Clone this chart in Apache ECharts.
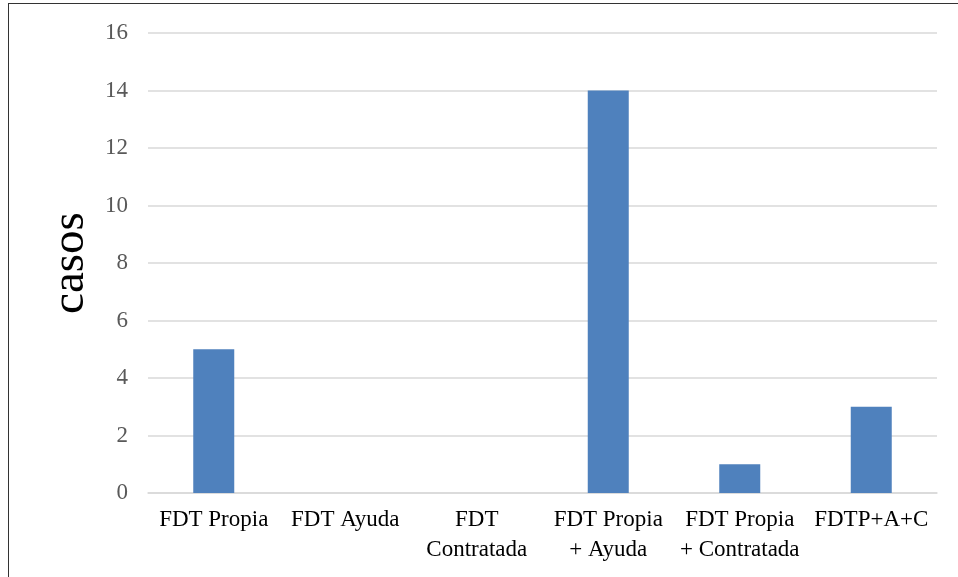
<!DOCTYPE html>
<html>
<head>
<meta charset="utf-8">
<script src="https://cdn.jsdelivr.net/npm/echarts@6/dist/echarts.min.js"></script>
<style>
  html, body { margin: 0; padding: 0; background: #fff; }
  #frame {
    position: absolute; left: 8px; top: 3px; width: 950px; height: 574px;
    border-left: 1px solid #333; border-top: 1px solid #333; box-sizing: border-box;
  }
  #chart { position: absolute; left: 0; top: 0; width: 958px; height: 577px; }
</style>
</head>
<body>
<div id="frame"></div>
<div id="chart"></div>
<script>
const categories = ['FDT Propia', 'FDT Ayuda', 'FDT\nContratada', 'FDT Propia\n+ Ayuda', 'FDT Propia\n+ Contratada', 'FDTP+A+C']
const casos = [5, 0, 0, 14, 1, 3]
const barColor = '#4f81bd'
const gridColor = '#d9d9d9'
const serif = '"Liberation Serif", "Times New Roman", serif'

const chart = echarts.init(document.getElementById('chart'))
chart.setOption({
  animation: false,
  grid: { left: 148, right: 21, top: 33, bottom: 84 },
  xAxis: {
    type: 'category',
    data: categories,
    axisLine: { lineStyle: { color: gridColor, width: 1.5 } },
    axisTick: { show: false },
    axisLabel: {
      interval: 0,
      margin: 12,
      color: '#000',
      fontFamily: serif,
      fontSize: 23,
      lineHeight: 30
    }
  },
  yAxis: {
    type: 'value',
    min: 0,
    max: 16,
    interval: 2,
    name: 'casos',
    nameLocation: 'middle',
    nameGap: 49,
    nameTextStyle: { fontFamily: serif, fontSize: 47, color: '#000' },
    axisLine: { show: false },
    axisTick: { show: false },
    splitLine: { lineStyle: { color: gridColor, width: 1.5 } },
    axisLabel: { margin: 20, color: '#595959', fontFamily: serif, fontSize: 23 }
  },
  series: [
    {
      type: 'bar',
      data: casos,
      barWidth: 41,
      itemStyle: { color: barColor }
    }
  ]
})
</script>
</body>
</html>
